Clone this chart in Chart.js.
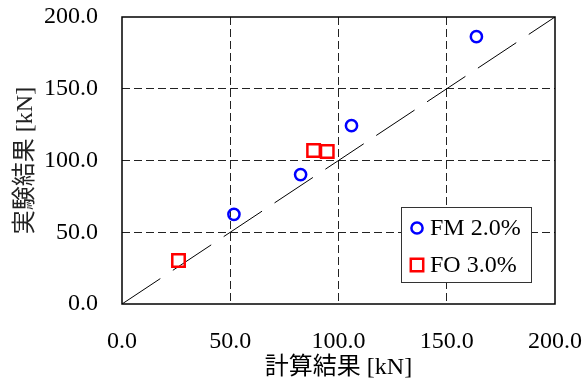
<!DOCTYPE html>
<html>
<head>
<meta charset="utf-8">
<script src="https://cdn.jsdelivr.net/npm/chart.js@4/dist/chart.umd.min.js"></script>
<style>
  html, body { margin: 0; padding: 0; background: #fff; }
  #wrap { width: 588px; height: 383px; }
</style>
</head>
<body>
<div id="wrap"><canvas id="c"></canvas></div>
<script>
// values
const fmLabel = 'FM 2.0%';
const fmCalc = [51.7, 82.5, 106.0, 163.7];
const fmTest = [62.5, 90.2, 124.3, 186.3];

const foLabel = 'FO 3.0%';
const foCalc = [26.1, 88.5, 94.8];
const foTest = [30.3, 107.0, 106.3];

// y = x reference line
const refX = [0, 200];
const refY = [0, 200];

const axisMin = 0, axisMax = 200, axisStep = 50;
const xTitle = '計算結果 [kN]';
const yTitle = '実験結果 [kN]';

const FONT = "'Liberation Serif', 'Noto Sans CJK JP', serif";
const pts = (xs, ys) => xs.map((x, i) => ({ x, y: ys[i] }));

// solid box round the plot area
const frame = {
  id: 'frame',
  beforeDatasetsDraw(chart) {
    const { ctx, chartArea: a } = chart;
    ctx.save();
    ctx.strokeStyle = '#000';
    ctx.lineWidth = 1.5;
    ctx.strokeRect(a.left, a.top, a.right - a.left, a.bottom - a.top);
    ctx.restore();
  }
};

// boxed legend inside the lower right corner
const legendBox = {
  id: 'legendBox',
  afterDraw(chart) {
    const { ctx, chartArea: a } = chart;
    const w = 130, h = 75;
    const x0 = a.right - 24 - w, y0 = a.bottom - 22 - h;
    ctx.save();
    ctx.fillStyle = '#fff';
    ctx.fillRect(x0, y0, w, h);
    ctx.strokeStyle = '#333';
    ctx.lineWidth = 1;
    ctx.strokeRect(x0 + 0.5, y0 + 0.5, w, h);
    chart.data.datasets.filter(d => d.label).forEach((ds, i) => {
      const cx = x0 + 16, cy = y0 + 21 + i * 37;
      ctx.strokeStyle = ds.borderColor;
      ctx.lineWidth = ds.borderWidth;
      ctx.beginPath();
      if (ds.pointStyle === 'rect') {
        const s = ds.pointRadius * Math.SQRT1_2;
        ctx.rect(cx - s, cy - s, 2 * s, 2 * s);
      } else {
        ctx.arc(cx, cy, ds.pointRadius, 0, Math.PI * 2);
      }
      ctx.stroke();
      ctx.fillStyle = '#000';
      ctx.font = '24px ' + FONT;
      ctx.textBaseline = 'middle';
      ctx.textAlign = 'left';
      ctx.fillText(ds.label, x0 + 29, cy + 1);
    });
    ctx.restore();
  }
};

const gridColor = c => (c.tick && (c.tick.value === axisMin || c.tick.value === axisMax)) ? 'rgba(0,0,0,0)' : '#222';

new Chart(document.getElementById('c'), {
  type: 'scatter',
  data: {
    datasets: [
      {
        label: fmLabel,
        data: pts(fmCalc, fmTest),
        pointStyle: 'circle',
        pointRadius: 5.6,
        borderWidth: 2.5,
        borderColor: '#0000ff',
        backgroundColor: 'rgba(0,0,0,0)',
        order: 1
      },
      {
        label: foLabel,
        data: pts(foCalc, foTest),
        pointStyle: 'rect',
        pointRadius: 8.8,
        borderWidth: 2.5,
        borderColor: '#ff0000',
        backgroundColor: 'rgba(0,0,0,0)',
        order: 2
      },
      {
        type: 'line',
        label: '',
        data: pts(refX, refY),
        borderColor: '#000',
        borderWidth: 1,
        borderDash: [46, 15],
        pointRadius: 0,
        fill: false,
        order: 3
      }
    ]
  },
  options: {
    responsive: true,
    maintainAspectRatio: false,
    animation: false,
    layout: { padding: { top: 17, right: 33, left: 0, bottom: 0 } },
    plugins: {
      legend: { display: false },
      tooltip: { enabled: false }
    },
    scales: {
      x: {
        type: 'linear',
        min: axisMin,
        max: axisMax,
        afterFit: s => { s.height = 79; s.paddingLeft = 0; s.paddingRight = 0; },
        ticks: {
          stepSize: axisStep,
          color: '#000',
          font: { family: FONT, size: 24 },
          padding: 23,
          maxRotation: 0,
          callback: v => v.toFixed(1)
        },
        grid: { color: gridColor, lineWidth: 1, drawTicks: false },
        border: { display: false, dash: [8, 4] },
        title: {
          display: true,
          text: xTitle,
          color: '#000',
          font: { family: FONT, size: 24 },
          padding: { top: 0, bottom: 1 }
        }
      },
      y: {
        type: 'linear',
        min: axisMin,
        max: axisMax,
        afterFit: s => { s.width = 122; s.paddingTop = 0; s.paddingBottom = 0; },
        ticks: {
          stepSize: axisStep,
          color: '#000',
          font: { family: FONT, size: 24 },
          padding: 24,
          callback: v => v.toFixed(1)
        },
        grid: { color: gridColor, lineWidth: 1, drawTicks: false },
        border: { display: false, dash: [8, 4] },
        title: {
          display: true,
          text: yTitle,
          color: '#222',
          font: { family: FONT, size: 24 },
          padding: { top: 11, bottom: 0 }
        }
      }
    }
  },
  plugins: [frame, legendBox]
});
</script>
</body>
</html>
